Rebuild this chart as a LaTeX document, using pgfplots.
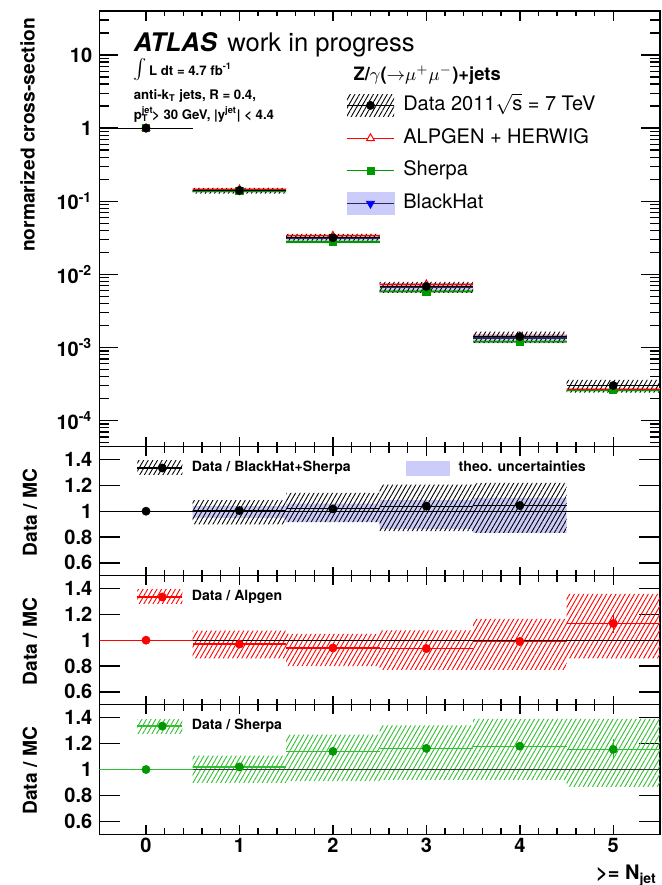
\documentclass[border=0pt]{standalone}
\usepackage{fontspec}
\setmainfont{TeX Gyre Heros}
\usepackage{pgfplots}
\pgfplotsset{compat=1.18}
\usepackage{pgfplotstable}
\usetikzlibrary{patterns.meta}

\definecolor{bhblue}{RGB}{204,204,250}
\definecolor{bandred}{RGB}{255,150,150}
\definecolor{bandgreen}{RGB}{100,185,100}
\definecolor{mcgreen}{RGB}{0,153,0}
\definecolor{hatchgreen}{RGB}{50,190,50}
\definecolor{bhline}{RGB}{40,40,90}

% normalised cross-section, bin centres
\pgfplotstableread{
x  data      alpgen    sherpa
0  1.0       1.0       1.0
1  0.1406    0.1449    0.1378
2  0.0317    0.0337    0.0278
3  0.00683   0.00730   0.00587
4  0.00141   0.001424  0.001195
5  0.000302  0.000267  0.000261
}\maincentres
\pgfplotstableread{
x  bh
0  1.0
1  0.1399
2  0.0311
3  0.00657
4  0.00135
}\maincentresbh

% uncertainty boxes: one rectangle per bin, nan between bins
\pgfplotstableread{
x    y
0.5  0.1336
0.5  0.1462
1.5  0.1462
1.5  0.1336
nan  nan
1.5  0.0289
1.5  0.0333
2.5  0.0333
2.5  0.0289
nan  nan
2.5  0.00585
2.5  0.00729
3.5  0.00729
3.5  0.00585
nan  nan
3.5  0.00117
3.5  0.00153
4.5  0.00153
4.5  0.00117
}\bhband
\pgfplotstableread{
x    y
0.5  0.139
0.5  0.151
1.5  0.151
1.5  0.139
nan  nan
1.5  0.0324
1.5  0.0350
2.5  0.0350
2.5  0.0324
nan  nan
2.5  0.00701
2.5  0.00759
3.5  0.00759
3.5  0.00701
nan  nan
3.5  0.001367
3.5  0.001481
4.5  0.001481
4.5  0.001367
nan  nan
4.5  0.000256
4.5  0.000278
5.5  0.000278
5.5  0.000256
}\alpband
\pgfplotstableread{
x    y
0.5  0.132
0.5  0.143
1.5  0.143
1.5  0.132
nan  nan
1.5  0.0267
1.5  0.0289
2.5  0.0289
2.5  0.0267
nan  nan
2.5  0.00564
2.5  0.00610
3.5  0.00610
3.5  0.00564
nan  nan
3.5  0.001147
3.5  0.001243
4.5  0.001243
4.5  0.001147
nan  nan
4.5  0.000251
4.5  0.000271
5.5  0.000271
5.5  0.000251
}\shband
\pgfplotstableread{
x    y
0.5  0.127
0.5  0.152
1.5  0.152
1.5  0.127
nan  nan
1.5  0.0289
1.5  0.0358
2.5  0.0358
2.5  0.0289
nan  nan
2.5  0.0056
2.5  0.0079
3.5  0.0079
3.5  0.0056
nan  nan
3.5  0.00116
3.5  0.00165
4.5  0.00165
4.5  0.00116
nan  nan
4.5  0.000242
4.5  0.000362
5.5  0.000362
5.5  0.000242
}\databand

% Data / BlackHat+Sherpa
\pgfplotstableread{
x  r
0  1.0
1  1.005
2  1.018
3  1.039
4  1.044
}\ratiobh
\pgfplotstableread{
x    y
0.5  0.948
0.5  1.039
1.5  1.039
1.5  0.948
nan  nan
1.5  0.915
1.5  1.059
2.5  1.059
2.5  0.915
nan  nan
2.5  0.863
2.5  1.085
3.5  1.085
3.5  0.863
nan  nan
3.5  0.832
3.5  1.103
4.5  1.103
4.5  0.832
}\ratiobhtheo
\pgfplotstableread{
x    y
0.5  0.897
0.5  1.085
1.5  1.085
1.5  0.897
nan  nan
1.5  0.915
1.5  1.142
2.5  1.142
2.5  0.915
nan  nan
2.5  0.845
2.5  1.207
3.5  1.207
3.5  0.845
nan  nan
3.5  0.832
3.5  1.22
4.5  1.22
4.5  0.832
}\ratiobhdata

% Data / Alpgen
\pgfplotstableread{
x  r      e
0  1.0    0
1  0.97   0
2  0.94   0
3  0.935  0
4  0.99   0.01
5  1.13   0.075
}\ratioalp
\pgfplotstableread{
x    y
0.5  0.86
0.5  1.075
1.5  1.075
1.5  0.86
nan  nan
1.5  0.80
1.5  1.05
2.5  1.05
2.5  0.80
nan  nan
2.5  0.77
2.5  1.077
3.5  1.077
3.5  0.77
nan  nan
3.5  0.77
3.5  1.165
4.5  1.165
4.5  0.77
nan  nan
4.5  0.86
4.5  1.36
5.5  1.36
5.5  0.86
}\ratioalpdata

% Data / Sherpa
\pgfplotstableread{
x  r      e
0  1.0    0
1  1.02   0
2  1.14   0
3  1.163  0.01
4  1.18   0.03
5  1.155  0.077
}\ratiosh
\pgfplotstableread{
x    y
0.5  0.897
0.5  1.108
1.5  1.108
1.5  0.897
nan  nan
1.5  0.91
1.5  1.27
2.5  1.27
2.5  0.91
nan  nan
2.5  0.92
2.5  1.34
3.5  1.34
3.5  0.92
nan  nan
3.5  0.92
3.5  1.39
4.5  1.39
4.5  0.92
nan  nan
4.5  0.866
4.5  1.39
5.5  1.39
5.5  0.866
}\ratioshdata

\tikzset{hatch/.style={pattern={Lines[angle=60,distance=2pt,line width=0.45pt]}, pattern color=#1, draw=none}}

\pgfplotsset{
  panel/.style={
    scale only axis, width=280.35pt, anchor=north west,
    xmin=-0.5, xmax=5.5, xtick={0,1,2,3,4,5}, minor x tick num=4,
    tick align=inside, xtick pos=both, ytick pos=both,
    axis line style={line width=0.7pt},
    every tick/.style={black, line width=0.7pt},
    tick label style={font=\fontsize{10}{12}\selectfont\bfseries},
    label style={font=\fontsize{9.6}{11}\selectfont\bfseries},
    error bars/error mark=none,
    unbounded coords=jump,
  },
  ratio/.style={
    panel, height=64.5pt, ymin=0.5, ymax=1.5,
    ytick={0.6,0.8,1,1.2,1.4}, yticklabels={0.6,0.8,1,1.2,1.4},
    ylabel={Data / MC},
    ylabel style={at={(axis description cs:-0.124,0.49)}, anchor=center},
    ytick style={/pgfplots/major tick length=10.5pt},
    xtick style={/pgfplots/major tick length=4.5pt, /pgfplots/minor tick length=3pt},
    legend columns=2,
    legend style={at={(axis description cs:0.066,0.835)}, anchor=west, draw=none, fill=none,
      inner sep=0pt, font=\fontsize{7.05}{8.5}\selectfont\bfseries, nodes={inner sep=0pt},
      /tikz/every odd column/.style={column sep=4.5pt},
      /tikz/every even column/.style={column sep=27.8pt}},
  },
}

\begin{document}
\begin{tikzpicture}
\path[use as bounding box] (0pt,0pt) rectangle (330.5pt,-442.5pt);

% ---------------- main panel ----------------
\begin{axis}[panel, at={(49.65pt,-5.5pt)}, height=217.85pt,
  ymode=log, ymin=4.4e-5, ymax=40,
  ytick={1e-4,1e-3,1e-2,1e-1,1,10},
  yticklabels={10\textsuperscript{-4},10\textsuperscript{-3},10\textsuperscript{-2},10\textsuperscript{-1},1,10},
  minor ytick={5e-5,6e-5,7e-5,8e-5,9e-5,2e-4,3e-4,4e-4,5e-4,6e-4,7e-4,8e-4,9e-4,2e-3,3e-3,4e-3,5e-3,6e-3,7e-3,8e-3,9e-3,0.02,0.03,0.04,0.05,0.06,0.07,0.08,0.09,0.2,0.3,0.4,0.5,0.6,0.7,0.8,0.9,2,3,4,5,6,7,8,9,20,30},
  xticklabels={},
  ylabel={normarized cross-section},
  ylabel style={at={(axis description cs:-0.128,1.0)}, anchor=east},
  ytick style={/pgfplots/major tick length=9.5pt, /pgfplots/minor tick length=5pt},
  xtick style={/pgfplots/major tick length=5pt, /pgfplots/minor tick length=2.5pt},
  legend cell align=left,
  legend style={at={(axis description cs:0.44,0.8095)}, anchor=north west, draw=none, fill=none,
    inner sep=0pt, row sep=6pt, font=\fontsize{10}{12}\selectfont,
    nodes={inner sep=0pt, text height=7.5pt, text depth=2.5pt},
    /tikz/every odd column/.style={column sep=4.35pt}},
]
\addlegendimage{legend image code/.code={
  \fill[hatch=black] (0pt,-5.5pt) rectangle (23.5pt,5.5pt);
  \draw[black,line width=0.6pt] (0pt,0pt) -- (23.5pt,0pt);
  \fill[black] (11.75pt,0pt) circle (2pt);}}
\addlegendentry{Data 2011$\sqrt{\hbox{s}}$ = 7 TeV}
\addlegendimage{legend image code/.code={
  \draw[red,line width=0.6pt] (0pt,0pt) -- (23.5pt,0pt);
  \draw[red,fill=white,line width=0.5pt] (11.75pt,0pt) ++(90:2.3pt) -- ++(-120:4pt) -- ++(0:4pt) -- cycle;}}
\addlegendentry{ALPGEN + HERWIG}
\addlegendimage{legend image code/.code={
  \draw[mcgreen,line width=0.6pt] (0pt,0pt) -- (23.5pt,0pt);
  \fill[mcgreen] (10pt,-1.75pt) rectangle (13.5pt,1.75pt);}}
\addlegendentry{Sherpa}
\addlegendimage{legend image code/.code={
  \fill[bhblue] (0pt,-5.5pt) rectangle (23.5pt,5.5pt);
  \draw[bhline,line width=0.6pt] (0pt,0pt) -- (23.5pt,0pt);
  \fill[blue] (11.75pt,-2.2pt) -- ++(60:4pt) -- ++(-4pt,0pt) -- cycle;}}
\addlegendentry{BlackHat}

% bands
\addplot[fill=bhblue, draw=none] table[x=x,y=y]{\bhband};
\addplot[fill=bandred, draw=none] table[x=x,y=y]{\alpband};
\addplot[fill=bandgreen, draw=none] table[x=x,y=y]{\shband};
\addplot[hatch=black] table[x=x,y=y]{\databand};

% central values
\addplot[only marks, mark=triangle*, mark size=2pt, blue, mark options={rotate=180},
  error bars/.cd, x dir=both, x fixed=0.5, error bar style={bhline,line width=0.6pt}]
  table[x=x,y=bh]{\maincentresbh};
\addplot[only marks, mark=triangle, mark size=2.2pt, red, mark options={line width=0.5pt},
  error bars/.cd, x dir=both, x fixed=0.5, error bar style={red,line width=0.6pt}]
  table[x=x,y=alpgen]{\maincentres};
\addplot[only marks, mark=square*, mark size=1.8pt, mcgreen,
  error bars/.cd, x dir=both, x fixed=0.5, error bar style={mcgreen,line width=0.6pt}]
  table[x=x,y=sherpa]{\maincentres};
\addplot[only marks, mark=*, mark size=2pt, black,
  error bars/.cd, x dir=both, x fixed=0.5, error bar style={black,line width=0.6pt}]
  table[x=x,y=data]{\maincentres};

\node[anchor=base west, font=\fontsize{12.8}{15}\selectfont] at (rel axis cs:0.049,0.906)
  {\textbf{\textit{ATLAS}}\hspace{5pt}work in progress};
\node[anchor=base west, font=\fontsize{6.6}{8}\selectfont\bfseries] at (rel axis cs:0.049,0.851)
  {{\fontsize{12.5}{12.5}\selectfont$\int$}\hspace{1pt}L dt = 4.7 fb\textsuperscript{-1}};
\node[anchor=base west, font=\fontsize{6.6}{8}\selectfont\bfseries] at (rel axis cs:0.049,0.796)
  {anti-k\textsubscript{T} jets, R = 0.4,};
\node[anchor=base west, font=\fontsize{6.6}{8}\selectfont\bfseries] at (rel axis cs:0.049,0.750)
  {p\rlap{\textsuperscript{jet}}\textsubscript{T} > 30 GeV, |y\textsuperscript{jet}| < 4.4};
\node[anchor=base west, font=\fontsize{9.2}{11}\selectfont\bfseries] at (rel axis cs:0.441,0.840)
  {Z/$\gamma$($\mathord{\rightarrow}\mu^{+}\mu^{-}$)+jets};
\end{axis}

% ---------------- Data / BlackHat+Sherpa ----------------
\begin{axis}[ratio, at={(49.65pt,-223.35pt)}, xticklabels={}]
\addlegendimage{legend image code/.code={
  \fill[hatch=black] (0pt,-3.5pt) rectangle (22.5pt,3.5pt);
  \draw[black,line width=0.6pt] (0pt,0pt) -- (22.5pt,0pt);
  \fill[black] (12.5pt,0pt) circle (2pt);}}
\addlegendentry{Data / BlackHat+Sherpa}
\addlegendimage{legend image code/.code={
  \fill[bhblue] (0pt,-3.5pt) rectangle (21.3pt,3.5pt);}}
\addlegendentry{theo. uncertainties}
\addplot[fill=bhblue, draw=none] table[x=x,y=y]{\ratiobhtheo};
\addplot[hatch=black] table[x=x,y=y]{\ratiobhdata};
\addplot[black, line width=0.6pt] coordinates {(-0.5,1) (5.5,1)};
\addplot[only marks, mark=*, mark size=2pt, black,
  error bars/.cd, x dir=both, x fixed=0.5, error bar style={black,line width=0.6pt}]
  table[x=x,y=r]{\ratiobh};
\end{axis}

% ---------------- Data / Alpgen ----------------
\begin{axis}[ratio, at={(49.65pt,-287.85pt)}, xticklabels={}]
\addlegendimage{legend image code/.code={
  \fill[hatch=red] (0pt,-3.5pt) rectangle (22.5pt,3.5pt);
  \draw[red,line width=0.6pt] (0pt,0pt) -- (22.5pt,0pt);
  \fill[red] (12.5pt,0pt) circle (2pt);}}
\addlegendentry{Data / Alpgen}
\addplot[hatch=red] table[x=x,y=y]{\ratioalpdata};
\addplot[black, line width=0.6pt] coordinates {(-0.5,1) (5.5,1)};
\addplot[only marks, mark=*, mark size=2pt, red,
  error bars/.cd, x dir=both, x fixed=0.5, y dir=both, y explicit,
  error bar style={red,line width=0.6pt}]
  table[x=x,y=r,y error=e]{\ratioalp};
\end{axis}

% ---------------- Data / Sherpa ----------------
\begin{axis}[ratio, at={(49.65pt,-352.35pt)}, height=64.8pt,
  xticklabels={0,1,2,3,4,5},
  xticklabel style={yshift=1.5pt},
  xlabel={>= N\textsubscript{jet}},
  xlabel style={at={(axis description cs:0.995,-0.35)}, anchor=base east, inner sep=0pt,
    font=\fontsize{10}{12}\selectfont\bfseries}]
\addlegendimage{legend image code/.code={
  \fill[hatch=hatchgreen] (0pt,-3.5pt) rectangle (22.5pt,3.5pt);
  \draw[hatchgreen,line width=0.6pt] (0pt,0pt) -- (22.5pt,0pt);
  \fill[mcgreen] (12.5pt,0pt) circle (2pt);}}
\addlegendentry{Data / Sherpa}
\addplot[hatch=hatchgreen] table[x=x,y=y]{\ratioshdata};
\addplot[black!80, line width=0.6pt] coordinates {(-0.5,1) (5.5,1)};
\addplot[only marks, mark=*, mark size=2pt, mcgreen,
  error bars/.cd, x dir=both, x fixed=0.5, y dir=both, y explicit,
  error bar style={hatchgreen,line width=0.6pt}]
  table[x=x,y=r,y error=e]{\ratiosh};
\end{axis}
\end{tikzpicture}
\end{document}
